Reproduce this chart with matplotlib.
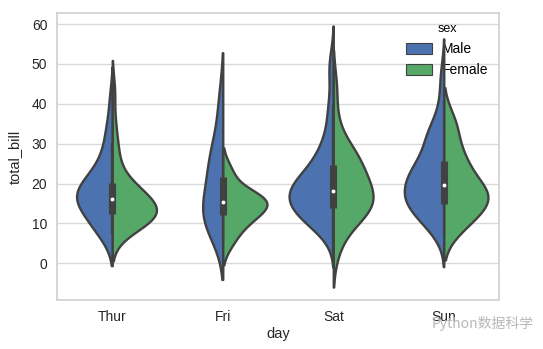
import numpy as np
import matplotlib
matplotlib.use("Agg")
import matplotlib.pyplot as plt
from matplotlib.patches import Patch

# total_bill per day / sex (tips data)
days = ["Thur", "Fri", "Sat", "Sun"]
sexes = ["Male", "Female"]
colors = ["#4C72B0", "#55A868"]

thur_male = [27.20, 22.76, 17.29, 19.44, 16.66, 32.68, 15.98, 13.03, 18.28, 24.71,
             21.16, 11.69, 14.26, 15.95, 8.52, 22.82, 19.08, 16.00, 34.30, 41.19,
             9.78, 7.51, 28.44, 15.48, 16.58, 7.56, 10.34, 13.51, 18.71, 20.53]
thur_female = [10.07, 34.83, 10.65, 12.43, 24.08, 13.42, 12.48, 29.80, 14.52, 11.38,
               20.27, 11.17, 12.26, 18.26, 8.51, 10.33, 14.15, 13.16, 17.47, 27.05,
               16.43, 8.35, 18.64, 11.87, 19.81, 43.11, 13.00, 12.74, 13.00, 16.40,
               16.47, 18.78]
fri_male = [28.97, 22.49, 40.17, 27.28, 12.03, 21.01, 12.46, 12.16, 8.58, 13.42]
fri_female = [5.75, 16.32, 22.75, 11.35, 15.38, 13.42, 15.98, 16.27, 10.09]
sat_male = [20.65, 17.92, 39.42, 19.82, 17.81, 13.37, 12.69, 21.70, 9.55, 18.35,
            17.78, 24.06, 16.31, 18.69, 31.27, 16.04, 38.01, 11.24, 48.27, 20.29,
            13.81, 11.02, 18.29, 17.59, 20.08, 20.23, 15.01, 12.02, 10.51, 17.92,
            15.36, 20.49, 25.21, 18.24, 14.00, 50.81, 15.81, 26.59, 38.73, 24.27,
            30.06, 25.89, 48.33, 28.15, 11.59, 7.74, 20.45, 13.28, 24.01, 15.69,
            11.61, 10.77, 15.53, 10.07, 12.60, 32.83, 29.03, 22.67, 17.82]
sat_female = [20.29, 15.77, 19.65, 15.06, 20.69, 16.93, 26.41, 16.45, 3.07, 17.07,
              26.86, 25.28, 14.73, 44.30, 22.42, 20.92, 14.31, 7.25, 10.59, 10.63,
              12.76, 13.27, 28.17, 12.90, 30.14, 22.12, 35.83, 27.18]
sun_male = [10.34, 21.01, 23.68, 25.29, 8.77, 26.88, 15.04, 14.78, 10.27, 15.42,
            18.43, 21.58, 16.29, 17.46, 13.94, 9.68, 30.40, 18.29, 22.23, 32.40,
            28.55, 18.04, 12.54, 9.94, 25.56, 19.49, 38.07, 23.95, 29.93, 14.07,
            13.13, 17.26, 24.55, 19.77, 48.17, 16.49, 21.50, 12.66, 13.81, 24.52,
            20.76, 31.71, 7.25, 31.85, 16.82, 32.90, 17.89, 14.48, 34.63, 34.65,
            23.33, 45.35, 23.17, 40.55, 20.69, 30.46, 23.10, 15.69]
sun_female = [16.99, 24.59, 35.26, 14.83, 10.33, 16.97, 10.29, 34.81, 25.71, 17.31,
              29.85, 25.00, 13.39, 16.21, 17.51, 9.60, 20.90, 18.15]

groups = [[thur_male, thur_female], [fri_male, fri_female],
          [sat_male, sat_female], [sun_male, sun_female]]

gray = "#414141"
lw = 1.7
width = 0.8


def kde(vals, cut=2, gridsize=100):
    x = np.asarray(vals, float)
    bw = x.std(ddof=1) * len(x) ** (-0.2)
    s = np.linspace(x.min() - cut * bw, x.max() + cut * bw, gridsize)
    d = np.exp(-0.5 * ((s[:, None] - x[None, :]) / bw) ** 2).sum(1)
    d /= len(x) * bw * np.sqrt(2 * np.pi)
    return s, d


plt.rcParams["font.family"] = ["Liberation Sans", "DejaVu Sans"]
fig = plt.figure(figsize=(5.43, 3.49), dpi=100)
ax = fig.add_axes([0.105, 0.140, 0.814, 0.823])
ax.set_axisbelow(True)
ax.grid(axis="y", color="#d9d9d9", lw=1.0)
for sp in ax.spines.values():
    sp.set_color("#d0d0d0")
    sp.set_linewidth(1.2)

for i, grp in enumerate(groups):
    dens = [kde(v) for v in grp]
    mx = max(d.max() for s, d in dens)
    for j, (s, d) in enumerate(dens):
        d = d / mx * width / 2
        if j == 0:
            ax.fill_betweenx(s, i - d, i, facecolor=colors[j], edgecolor=gray, lw=lw, zorder=2)
        else:
            ax.fill_betweenx(s, i, i + d, facecolor=colors[j], edgecolor=gray, lw=lw, zorder=2)
    allv = np.concatenate([np.asarray(v) for v in grp])
    q25, q50, q75 = np.percentile(allv, [25, 50, 75])
    wl = 1.5 * (q75 - q25)
    h1 = allv[allv >= q25 - wl].min()
    h2 = allv[allv <= q75 + wl].max()
    ax.plot([i, i], [h1, h2], color=gray, lw=lw, zorder=3)
    ax.plot([i, i], [q25, q75], color=gray, lw=lw * 3, solid_capstyle="butt", zorder=3)
    ax.scatter(i, q50, s=(lw * 2) ** 2, color="white", edgecolor=gray, lw=0.5, zorder=4)

ax.set_xlim(-0.5, len(days) - 0.5)
ax.set_xticks(range(len(days)))
ax.set_xticklabels(days)
ax.set_yticks(range(0, 61, 10))
ax.tick_params(length=0, labelsize=10, labelcolor="#262626", pad=7)
ax.set_xlabel("day", fontsize=10.5, color="#262626", labelpad=2)
ax.set_ylabel("total_bill", fontsize=10.5, color="#262626", labelpad=7)

handles = [Patch(facecolor=c, edgecolor=gray, lw=0.8, label=l) for c, l in zip(colors, sexes)]
leg = ax.legend(handles=handles, title="sex", loc="upper right", frameon=False,
                fontsize=10, title_fontsize=9, handlelength=1.9, handleheight=0.8,
                handletextpad=0.7, borderaxespad=0.35, labelspacing=0.5)
leg.set_zorder(1.5)

# watermark
fig.text(0.795, 0.073, "Python数据科学", fontsize=10, color="#b8b8b8", va="center",
         family=["Noto Sans CJK SC", "DejaVu Sans"])

fig.savefig("out.png", dpi=100)
